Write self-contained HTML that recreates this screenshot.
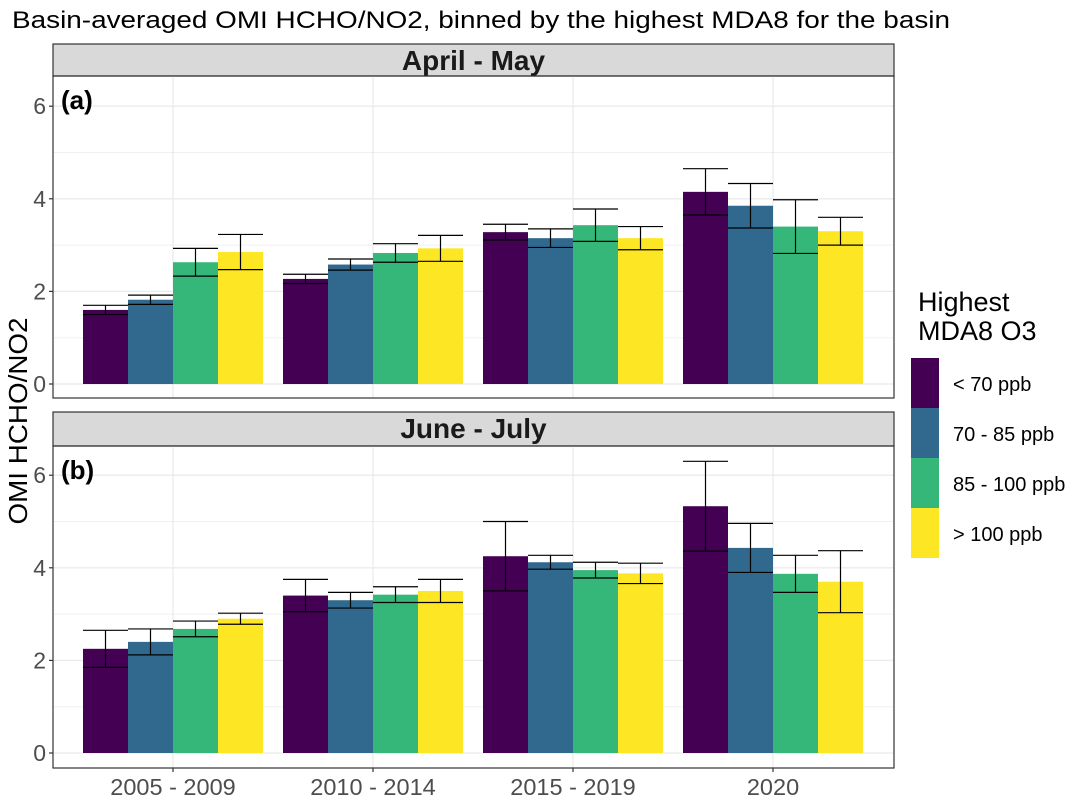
<!DOCTYPE html>
<html><head><meta charset="utf-8"><style>
body{margin:0;background:#fff;}
svg{display:block;font-family:"Liberation Sans",Arial,sans-serif;}
</style></head><body>
<svg id="chart" width="1072" height="805">
<text x="12" y="28" font-size="24" textLength="938" lengthAdjust="spacingAndGlyphs" fill="#000">Basin-averaged OMI HCHO/NO2,  binned by the highest MDA8 for the basin</text>
<text transform="translate(27,421) rotate(-90)" text-anchor="middle" font-size="26" textLength="207" lengthAdjust="spacingAndGlyphs" fill="#000">OMI HCHO/NO2</text>
<text x="918" y="311" font-size="27" fill="#000">Highest</text>
<text x="918" y="340" font-size="27" fill="#000">MDA8 O3</text>
</svg>
<script>
const categories=["2005 - 2009","2010 - 2014","2015 - 2019","2020"];
const seriesNames=["< 70 ppb","70 - 85 ppb","85 - 100 ppb","> 100 ppb"];
const colors=["#440154","#31688E","#35B779","#FDE725"];
const panelTitles=["April - May","June - July"];
const panelTags=["(a)","(b)"];
const valuesA=[[1.6,2.27,3.28,4.15],[1.82,2.58,3.15,3.85],[2.63,2.83,3.43,3.4],[2.85,2.93,3.15,3.3]];
const errA=[[0.1,0.1,0.17,0.5],[0.1,0.12,0.2,0.48],[0.3,0.2,0.35,0.58],[0.38,0.28,0.25,0.3]];
const valuesB=[[2.25,3.4,4.25,5.33],[2.4,3.3,4.12,4.43],[2.68,3.42,3.95,3.87],[2.9,3.5,3.88,3.7]];
const errB=[[0.4,0.35,0.75,0.97],[0.28,0.17,0.15,0.53],[0.17,0.17,0.17,0.4],[0.12,0.25,0.22,0.67]];
const yTicks=[0,2,4,6];
const yMinor=[1,3,5];

const svg=document.getElementById('chart');
const NS='http://www.w3.org/2000/svg';
function mk(tag,attrs){const e=document.createElementNS(NS,tag);for(const k in attrs)e.setAttribute(k,attrs[k]);svg.appendChild(e);return e;}
const X0=53,X1=894;
function xGroup(i){return 173+i*200;}
function xBar(i,s){return xGroup(i)-90+s*45;}
const panels=[{top:44,strip:76,bottom:398,zero:384,vals:valuesA,errs:errA},{top:412,strip:446,bottom:768,zero:753,vals:valuesB,errs:errB}];
const PPU=46.3;
panels.forEach((p,pi)=>{
  const y=v=>p.zero-v*PPU;
  let e=mk('rect',{x:X0,y:p.top,width:X1-X0,height:p.strip-p.top,fill:'#d9d9d9',stroke:'#333','stroke-width':1.2});
  
  e=mk('text',{x:(X0+X1)/2,y:p.top+26,'text-anchor':'middle','font-size':28,'font-weight':'bold',fill:'#1a1a1a'});e.textContent=panelTitles[pi];
  
  yMinor.forEach(t=>{e=mk('line',{x1:X0,x2:X1,y1:y(t),y2:y(t),stroke:'#f0f0f0','stroke-width':1});
    });
  yTicks.forEach(t=>{e=mk('line',{x1:X0,x2:X1,y1:y(t),y2:y(t),stroke:'#ebebeb','stroke-width':1.3});
    
    e=mk('line',{x1:X0-4,x2:X0,y1:y(t),y2:y(t),stroke:'#333','stroke-width':1.2});
    
    e=mk('text',{x:X0-7,y:y(t)+8,'text-anchor':'end','font-size':23,fill:'#4d4d4d'});e.textContent=t;
    });
  categories.forEach((c,i)=>{e=mk('line',{x1:xGroup(i),x2:xGroup(i),y1:p.strip,y2:p.bottom,stroke:'#ebebeb','stroke-width':1.3});
    });
  seriesNames.forEach((s,si)=>{categories.forEach((c,i)=>{
    const v=p.vals[si][i],er=p.errs[si][i],bx=xBar(i,si);
    e=mk('rect',{x:bx,y:y(v),width:45,height:p.zero-y(v),fill:colors[si]});
    
    const g=[[bx,y(v+er),bx+45,y(v+er)],[bx,y(v-er),bx+45,y(v-er)],[bx+22.5,y(v+er),bx+22.5,y(v-er)]];
    g.forEach(l=>{e=mk('line',{x1:l[0],y1:l[1],x2:l[2],y2:l[3],stroke:'#000','stroke-width':1.2});
      });
  });});
  e=mk('rect',{x:X0,y:p.strip,width:X1-X0,height:p.bottom-p.strip,fill:'none',stroke:'#333','stroke-width':1.2});
  
  e=mk('text',{x:61,y:p.strip+33,'font-size':26,'font-weight':'bold',fill:'#000'});e.textContent=panelTags[pi];
  
});
categories.forEach((c,i)=>{
  let e=mk('line',{x1:xGroup(i),x2:xGroup(i),y1:768,y2:772,stroke:'#333','stroke-width':1.2});
  
  e=mk('text',{x:xGroup(i),y:795,'text-anchor':'middle','font-size':23.5,fill:'#4d4d4d'});e.textContent=c;
  
});
seriesNames.forEach((s,si)=>{
  let e=mk('rect',{x:911,y:358+si*50,width:28,height:50,fill:colors[si]});
  
  e=mk('text',{x:953,y:391+si*50,'font-size':20,fill:'#000'});e.textContent=s;
  
});
</script>
</body></html>
